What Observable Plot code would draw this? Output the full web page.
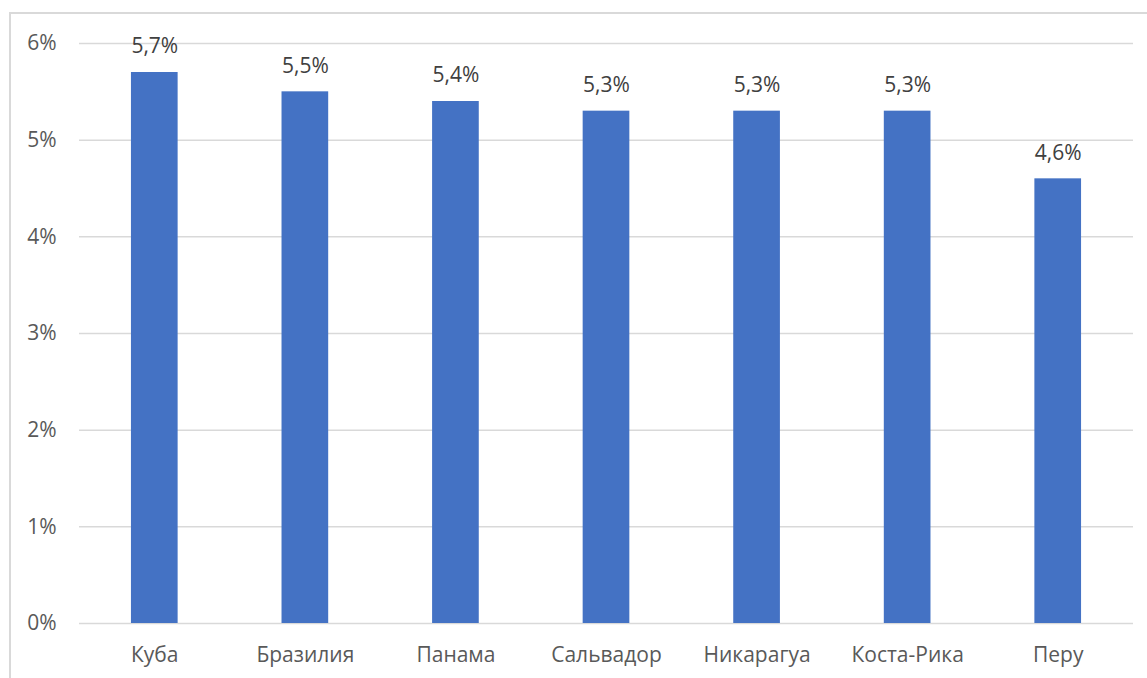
<!DOCTYPE html>
<html>
<head>
<meta charset="utf-8">
<script src="https://cdn.jsdelivr.net/npm/d3@7"></script>
<script src="https://cdn.jsdelivr.net/npm/@observablehq/plot@0.6"></script>
<style>
  html, body { margin: 0; padding: 0; background: #fff; overflow: hidden; }
  #wrap { position: relative; width: 1147px; height: 678px; }
  #frame { position: absolute; left: 9px; top: 12px; width: 1200px; height: 700px; border: 2px solid #d9d9d9; box-sizing: border-box; }
  #chart { position: absolute; left: 0; top: 0; }
</style>
</head>
<body>
<div id="wrap"><div id="frame"></div><div id="chart"></div></div>
<script>
const countries = ["Куба", "Бразилия", "Панама", "Сальвадор", "Никарагуа", "Коста-Рика", "Перу"];
const values = [5.7, 5.5, 5.4, 5.3, 5.3, 5.3, 4.6];
const yTicks = [0, 1, 2, 3, 4, 5, 6];

const data = countries.map((c, i) => ({country: c, value: values[i]}));
const fmt = v => v.toFixed(1).replace(".", ",") + "%";
const FS = 21;

const chart = Plot.plot({
  width: 1147,
  height: 678,
  marginLeft: 79,
  marginRight: 14,
  marginTop: 43,
  marginBottom: 55,
  style: {fontFamily: "'Open Sans', 'Noto Sans', sans-serif", fontSize: FS + "px", color: "#595959", background: "transparent"},
  x: {domain: countries, paddingInner: 0.69, paddingOuter: 0.345, round: false, label: null},
  y: {domain: [0, 6], label: null},
  marks: [
    Plot.ruleY(yTicks, {stroke: "#d9d9d9", strokeWidth: 1.5, strokeOpacity: 1}),
    Plot.barY(data, {x: "country", y: "value", fill: "#4472c4"}),
    Plot.text(data, {x: "country", y: "value", text: d => fmt(d.value), dy: -26, fill: "#404040", fontSize: FS}),
    Plot.axisX({tickSize: 0, tickPadding: 24, fontSize: FS, fill: "#595959"}),
    Plot.axisY({ticks: yTicks, tickSize: 0, tickPadding: 23, tickFormat: d => d + "%", fontSize: FS, fill: "#595959"})
  ]
});
chart.querySelectorAll("text").forEach(t => t.style.fontSize = FS + "px");
document.getElementById("chart").appendChild(chart);
</script>
</body>
</html>
